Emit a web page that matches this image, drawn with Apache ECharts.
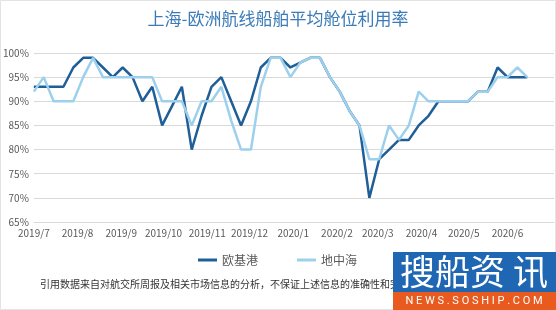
<!DOCTYPE html>
<html>
<head>
<meta charset="utf-8">
<script src="https://cdn.jsdelivr.net/npm/echarts@6/dist/echarts.min.js"></script>
<style>
  html, body { margin: 0; padding: 0; background: #fff; }
  #main { width: 556px; height: 310px; }
</style>
</head>
<body>
<div id="main"></div>
<script>
// weekly report dates (Fridays)
var weeks = [
    '2019-07-05', '2019-07-12', '2019-07-19', '2019-07-26',
    '2019-08-02', '2019-08-09', '2019-08-16', '2019-08-23', '2019-08-30',
    '2019-09-06', '2019-09-13', '2019-09-20', '2019-09-27',
    '2019-10-04', '2019-10-11', '2019-10-18', '2019-10-25',
    '2019-11-01', '2019-11-08', '2019-11-15', '2019-11-22', '2019-11-29',
    '2019-12-06', '2019-12-13', '2019-12-20', '2019-12-27',
    '2020-01-03', '2020-01-10', '2020-01-17', '2020-01-24', '2020-01-31',
    '2020-02-07', '2020-02-14', '2020-02-21', '2020-02-28',
    '2020-03-06', '2020-03-13', '2020-03-20', '2020-03-27',
    '2020-04-03', '2020-04-10', '2020-04-17', '2020-04-24',
    '2020-05-01', '2020-05-08', '2020-05-15', '2020-05-22', '2020-05-29',
    '2020-06-05', '2020-06-12', '2020-06-19'
];
// 欧基港
var northEurope = [
    93, 93, 93, 93,
    97, 99, 99, 97, 95,
    97, 95, 90, 93,
    85, 89, 93, 80,
    87, 93, 95, 90, 85,
    90, 97, 99, 99,
    97, 98, 99, 99, 95,
    92, 88, 85, 70,
    78, 80, 82, 82,
    85, 87, 90, 90,
    90, 90, 92, 92, 97,
    95, 95, 95
];
// 地中海
var mediterranean = [
    92, 95, 90, 90,
    90, 95, 99, 95, 95,
    95, 95, 95, 95,
    90, 90, 90, 85,
    90, 90, 93, 86, 80,
    80, 93, 99, 99,
    95, 98, 99, 99, 95,
    92, 88, 85, 78,
    78, 85, 82, 85,
    92, 90, 90, 90,
    90, 90, 92, 92, 95,
    95, 97, 95
];
// x axis labels sit on the 5th of each month
var tickDates = [
    '2019-07-05', '2019-08-05', '2019-09-05', '2019-10-05', '2019-11-05', '2019-12-05',
    '2020-01-05', '2020-02-05', '2020-03-05', '2020-04-05', '2020-05-05', '2020-06-05'
];
var seriesNames = ['欧基港', '地中海'];

var DAY = 86400000;
function toTime(s) {
    var p = s.split('-');
    return Date.UTC(+p[0], +p[1] - 1, +p[2]);
}
var base = toTime(weeks[0]);
// days since first report
function dayOf(s) {
    return Math.round((toTime(s) - base) / DAY);
}
function pairs(values) {
    var out = [];
    for (var i = 0; i < values.length; i++) {
        out.push([dayOf(weeks[i]), values[i]]);
    }
    return out;
}

var font = '"Noto Sans CJK SC", "Noto Sans", sans-serif';
var myChart = echarts.init(document.getElementById('main'));
var option = {
    backgroundColor: '#fff',
    animation: false,
    textStyle: { fontFamily: font },
    title: {
        text: '上海-欧洲航线船舶平均舱位利用率',
        left: 'center',
        top: 5,
        textStyle: {
            color: '#3a7bb8',
            fontSize: 17,
            fontWeight: 'normal',
            fontFamily: font
        }
    },
    legend: {
        left: 193,
        top: 249,
        icon: 'rect',
        itemWidth: 19,
        itemHeight: 3,
        itemGap: 39,
        textStyle: { color: '#595959', fontSize: 12, fontFamily: font },
        data: seriesNames
    },
    grid: { left: 30, right: 2, top: 53, bottom: 88, containLabel: false },
    xAxis: {
        type: 'value',
        min: 0,
        max: dayOf('2020-07-08'),
        axisLine: { show: true, lineStyle: { color: '#d9d9d9' } },
        axisTick: { show: false },
        splitLine: { show: false },
        axisLabel: {
            customValues: tickDates.map(dayOf),
            hideOverlap: false,
            color: '#595959',
            fontSize: 10,
            margin: 6,
            formatter: function (v) {
                var d = new Date(base + v * DAY);
                return d.getUTCFullYear() + '/' + (d.getUTCMonth() + 1);
            }
        }
    },
    yAxis: {
        type: 'value',
        min: 65,
        max: 100,
        interval: 5,
        axisLine: { show: false },
        axisTick: { show: false },
        splitLine: { lineStyle: { color: '#d9d9d9' } },
        axisLabel: { color: '#595959', fontSize: 10, margin: 5, formatter: '{value}%' }
    },
    series: [
        {
            name: seriesNames[0],
            type: 'line',
            symbol: 'none',
            data: pairs(northEurope),
            lineStyle: { color: '#1f5e96', width: 2.5 },
            itemStyle: { color: '#1f5e96' }
        },
        {
            name: seriesNames[1],
            type: 'line',
            symbol: 'none',
            data: pairs(mediterranean),
            lineStyle: { color: '#9dd0ec', width: 2.5 },
            itemStyle: { color: '#9dd0ec' }
        }
    ],
    graphic: [
        {
            type: 'rect', z: -1, silent: true,
            shape: { x: 0.5, y: 0.5, width: 555, height: 309 },
            style: { fill: null, stroke: '#e3e3e3', lineWidth: 1 }
        },
        {
            type: 'text', left: 40, top: 279,
            style: {
                text: '引用数据来自对航交所周报及相关市场信息的分析，不保证上述信息的准确性和完整性。',
                fill: '#333', fontSize: 10, fontFamily: font
            }
        },
        {
            type: 'group', left: 393, top: 252,
            children: [
                { type: 'rect', shape: { x: 0, y: 0, width: 163, height: 40 }, style: { fill: '#1f66b3' } },
                { type: 'rect', shape: { x: 0, y: 40, width: 163, height: 18 }, style: { fill: '#e85a1e' } },
                {
                    type: 'text', x: 81, y: 20,
                    style: { text: '搜船资 讯', fill: '#fff', fontSize: 35, fontFamily: font, align: 'center', verticalAlign: 'middle' }
                },
                {
                    type: 'text', x: 81, y: 49,
                    style: { text: 'N E W S . S O S H I P . C O M', fill: '#fff', fontSize: 11, fontFamily: 'Roboto, sans-serif', align: 'center', verticalAlign: 'middle' }
                }
            ]
        }
    ]
};
myChart.setOption(option);
</script>
</body>
</html>
